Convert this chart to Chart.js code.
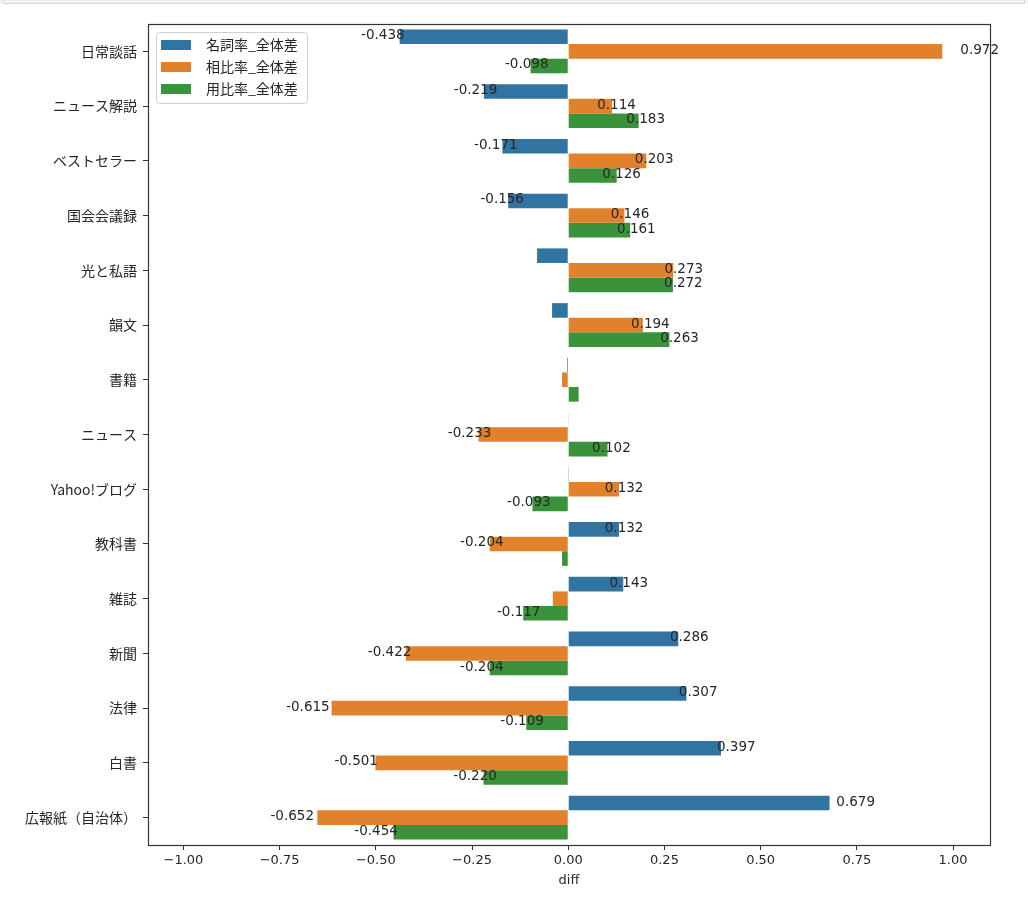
<!DOCTYPE html>
<html><head><meta charset="utf-8">
<script src="https://cdn.jsdelivr.net/npm/chart.js@4.4.1/dist/chart.umd.min.js"></script>
<style>html,body{margin:0;padding:0;background:#fff;}#wrap{width:1028px;height:910px;position:relative;}</style>
</head><body><div id="wrap"><canvas id="c" width="1028" height="910"></canvas></div>
<script>
const categories = ["日常談話","ニュース解説","ベストセラー","国会会議録","光と私語","韻文","書籍","ニュース","Yahoo!ブログ","教科書","雑誌","新聞","法律","白書","広報紙（自治体）"];
const seriesNames = ["名詞率_全体差","相比率_全体差","用比率_全体差"];
const meishi = [-0.438,-0.219,-0.171,-0.156,-0.081,-0.042,-0.003,0.001,0.002,0.132,0.143,0.286,0.307,0.397,0.679];
const sohi   = [0.972,0.114,0.203,0.146,0.273,0.194,-0.016,-0.233,0.132,-0.204,-0.040,-0.422,-0.615,-0.501,-0.652];
const yohi   = [-0.098,0.183,0.126,0.161,0.272,0.263,0.027,0.102,-0.093,-0.016,-0.117,-0.204,-0.109,-0.220,-0.454];
const xTicks = [-1.00,-0.75,-0.50,-0.25,0.00,0.25,0.50,0.75,1.00];
const colors = ["#3274A1","#E1812C","#3A923A"];
const FONT = '"Noto Sans CJK JP", "Noto Sans", sans-serif';
const NUMFONT = '"DejaVu Sans", sans-serif';
const TXT = '#262626';

const framePlugin = {
  id:'frame',
  beforeDraw(chart){
    const ctx = chart.ctx;
    ctx.save();
    ctx.fillStyle = '#f2f2f2';
    ctx.fillRect(0,0,1028,3);
    ctx.strokeStyle = '#d6d6d6';
    ctx.lineWidth = 1;
    ctx.beginPath();
    ctx.moveTo(3.5,0); ctx.lineTo(3.5,3.5); ctx.lineTo(1024.5,3.5); ctx.lineTo(1024.5,0);
    ctx.stroke();
    ctx.restore();
  },
  afterDraw(chart){
    const ctx = chart.ctx, a = chart.chartArea;
    ctx.save();
    ctx.strokeStyle = '#333';
    ctx.lineWidth = 1.2;
    ctx.strokeRect(Math.round(a.left)+0.5, Math.round(a.top)+0.5, Math.round(a.right-a.left), Math.round(a.bottom-a.top));
    // data labels
    const xs = chart.scales.x;
    ctx.font = '13.5px ' + NUMFONT;
    ctx.fillStyle = TXT;
    ctx.textAlign = 'center';
    ctx.textBaseline = 'middle';
    chart.data.datasets.forEach((ds, di) => {
      const meta = chart.getDatasetMeta(di);
      meta.data.forEach((bar, i) => {
        const v = ds.data[i];
        if (Math.abs(v) < 0.09) return;
        const x = xs.getPixelForValue(v * 1.1);
        ctx.fillText(v.toFixed(3), x, bar.y - 1);
      });
    });
    // legend
    const lx = 156, ly = 32, lw = 151, lh = 71, r = 4;
    ctx.fillStyle = 'rgba(255,255,255,0.85)';
    ctx.strokeStyle = '#d0d0d0';
    ctx.lineWidth = 1;
    ctx.beginPath();
    ctx.roundRect(lx+0.5, ly+0.5, lw, lh, r);
    ctx.fill(); ctx.stroke();
    ctx.textAlign = 'left';
    ctx.font = '14px ' + FONT;
    seriesNames.forEach((n, k) => {
      const cy = ly + 13 + k * 22;
      ctx.fillStyle = colors[k];
      ctx.fillRect(lx + 5, cy - 5, 30, 10);
      ctx.fillStyle = TXT;
      ctx.fillText(n, lx + 50, cy);
    });
    ctx.restore();
  }
};

new Chart(document.getElementById('c'), {
  type: 'bar',
  data: {
    labels: categories,
    datasets: [meishi, sohi, yohi].map((d, k) => ({
      label: seriesNames[k], data: d, backgroundColor: colors[k],
      borderWidth: 0, categoryPercentage: 0.8, barPercentage: 1.0
    }))
  },
  options: {
    indexAxis: 'y',
    responsive: false,
    animation: false,
    devicePixelRatio: 1,
    layout: { padding: { left: 0, right: 38, top: 24, bottom: 22 } },
    plugins: { legend: { display: false }, tooltip: { enabled: false } },
    scales: {
      x: {
        type: 'linear', min: -1.092, max: 1.096,
        afterBuildTicks: (s) => { s.ticks = xTicks.map(v => ({ value: v })); },
        afterFit: (s) => { s.height = 43; },
        ticks: { callback: (v) => Number(v).toFixed(2).replace('-', '\u2212'), color: TXT, font: { family: NUMFONT, size: 13 }, padding: 3, maxRotation: 0, autoSkip: false },
        grid: { display: true, drawOnChartArea: false, drawTicks: true, tickLength: 5, color: '#333' },
        border: { display: false },
        title: { display: true, text: 'diff', color: TXT, font: { family: NUMFONT, size: 13 }, padding: { top: 2, bottom: 0 } }
      },
      y: {
        type: 'category',
        afterFit: (s) => { s.width = 148; },
        ticks: { color: TXT, font: { family: FONT, size: 14 }, padding: 6, autoSkip: false },
        grid: { display: true, offset: false, drawOnChartArea: false, drawTicks: true, tickLength: 5, color: '#333' },
        border: { display: false }
      }
    }
  },
  plugins: [framePlugin]
});
</script></body></html>
